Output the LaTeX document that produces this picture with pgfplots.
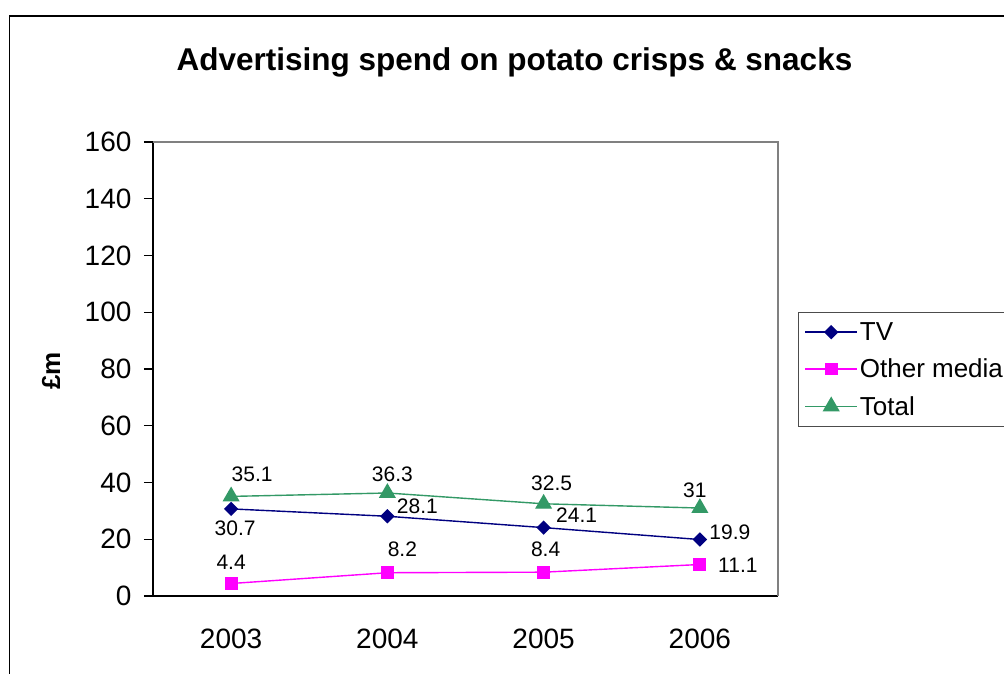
\documentclass[border=0pt]{standalone}
\usepackage{pgfplots}
\usepackage{pgfplotstable}
\pgfplotsset{compat=1.18}
\usepackage{fontspec}
\setmainfont{Liberation Sans}
\definecolor{tvcol}{RGB}{0,0,128}
\definecolor{othcol}{RGB}{255,0,255}
\definecolor{totcol}{RGB}{51,153,102}
\definecolor{framegray}{RGB}{128,128,128}

\pgfplotstableread{
x y dx dy lab
0 30.7 4 -19 30.7
1 28.1 30 10 28.1
2 24.1 33 12 24.1
3 19.9 30 7 19.9
}\tvdata
\pgfplotstableread{
x y dx dy lab
0 4.4 0 21 4.4
1 8.2 15 23 8.2
2 8.4 2 23 8.4
3 11.1 38 -1 11.1
}\othdata
\pgfplotstableread{
x y dx dy lab
0 35.1 21 22 35.1
1 36.3 5 19 36.3
2 32.5 8 21 32.5
3 31 -5 18 31
}\totdata

\begin{document}
\begin{tikzpicture}
\draw[black, line width=1.3pt] (9.5pt,-20pt) -- (9.5pt,657pt) -- (1030pt,657pt);
\node[font=\fontsize{31.5}{36}\selectfont\bfseries] at (514.5pt,611pt) {Advertising spend on potato crisps \& snacks};
\node[font=\fontsize{26}{30}\selectfont\bfseries, rotate=90] at (51pt,302pt) {£m};
\begin{axis}[
  at={(153pt,77pt)}, anchor=south west,
  scale only axis, width=625pt, height=454pt,
  xmin=-0.5, xmax=3.5, ymin=0, ymax=160,
  ytick={0,20,...,160},
  xtick={0,1,2,3}, xticklabels={2003,2004,2005,2006},
  major x tick style={draw=none},
  extra x ticks={-0.5,0.5,1.5,2.5,3.5},
  extra x tick labels={},
  extra x tick style={major tick length=9pt, tick style={black, line width=1.2pt}},
  axis x line*=bottom, axis y line*=left,
  axis line style={black, line width=1.3pt, -},
  tick style={black, line width=1.2pt},
  tick align=outside,
  major tick length=9pt,
  /pgf/number format/assume math mode=true,
  yticklabel style={font=\fontsize{28}{32}\selectfont, xshift=-9pt},
  xticklabel style={font=\fontsize{28}{32}\selectfont, yshift=-20pt},
  clip=false,
  legend style={at={(axis description cs:1.032,0.6256)}, anchor=north west,
    draw=black!70, line width=1pt, font=\fontsize{26}{29}\selectfont,
    inner xsep=6pt, inner ysep=8pt, row sep=13pt,
    nodes={inner sep=2pt}},
  legend cell align=left,
  legend image code/.code={\draw[line width=1.4pt, mark repeat=2,mark phase=2] plot coordinates {(0pt,0pt) (26pt,0pt) (52pt,0pt)};},
  visualization depends on={\thisrow{dx} \as \dx},
  visualization depends on={\thisrow{dy} \as \dy},
  nodes near coords,
  point meta=explicit symbolic,
  nodes near coords style={anchor=center, xshift=\dx pt, yshift=\dy pt, font=\fontsize{21}{24}\selectfont, text=black},
]
\addplot[tvcol, line width=1.4pt, mark=square*, mark size=4.4pt, mark options={rotate=45, solid}] table[x=x, y=y, meta=lab] {\tvdata};
\addlegendentry{TV}
\addplot[othcol, line width=1.4pt, mark=square*, mark size=5.7pt, mark options={solid}] table[x=x, y=y, meta=lab] {\othdata};
\addlegendentry{Other media}
\addplot[totcol, line width=1.4pt, mark=triangle*, mark size=8.5pt, mark options={solid}] table[x=x, y=y, meta=lab] {\totdata};
\addlegendentry{Total}
\draw[framegray, line width=1.3pt] (rel axis cs:0,1) -- (rel axis cs:1,1) -- (rel axis cs:1,0);
\end{axis}
\pgfresetboundingbox
\useasboundingbox (0pt,0pt) rectangle (1004pt,673pt);
\end{tikzpicture}
\end{document}
